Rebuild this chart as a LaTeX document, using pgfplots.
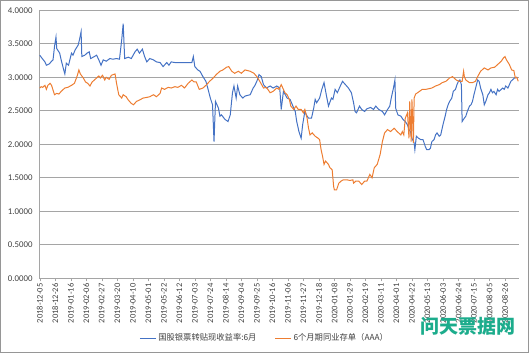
\documentclass[border=0pt]{standalone}
\usepackage{pgfplots}
\pgfplotsset{compat=1.18}
\usepackage{fontspec}
\setmainfont{Carlito}
\newfontfamily\cjk{Noto Sans CJK SC}
\definecolor{xlblue}{RGB}{68,114,196}
\definecolor{xlorange}{RGB}{237,125,49}
\definecolor{gridc}{RGB}{165,165,165}
\definecolor{framec}{RGB}{150,150,150}
\definecolor{wmark}{RGB}{28,172,140}
\begin{document}
\begin{tikzpicture}
\path[use as bounding box] (0,0) rectangle (529pt,353pt);
\draw[framec, line width=0.8pt] (0.4pt,0.4pt) rectangle (528.6pt,352.6pt);
\begin{axis}[
  scale only axis,
  width=480pt, height=268pt,
  at={(39pt,74.7pt)}, anchor=south west,
  xmin=-1, xmax=649,
  ymin=0, ymax=4,
  ytick={0,0.5,...,4},
  axis x line*=bottom, axis y line*=left,
  axis line style={gridc, -},
  ymajorgrids, grid style={gridc, line width=0.8pt},
  ytick style={draw=none},
  xtick={0,21,...,630},
  xticklabels={2018-12-05,2018-12-26,2019-01-16,2019-02-06,2019-02-27,2019-03-20,2019-04-10,2019-05-01,2019-05-22,2019-06-12,2019-07-03,2019-07-24,2019-08-14,2019-09-04,2019-09-25,2019-10-16,2019-11-06,2019-11-27,2019-12-18,2020-01-08,2020-01-29,2020-02-19,2020-03-11,2020-04-01,2020-04-22,2020-05-13,2020-06-03,2020-06-24,2020-07-15,2020-08-05,2020-08-26},
  xtick align=outside,
  major tick length=3pt,
  xtick style={gridc},
  xticklabel style={rotate=90, anchor=east, font=\fontsize{8.5}{9}\selectfont, text=black!75, inner sep=2pt},
  yticklabel style={font=\fontsize{8.8}{9}\selectfont, text=black!75, xshift=-3pt},
  /pgf/number format/.cd, fixed, fixed zerofill, precision=4, assume math mode=true,
  /pgfplots/.cd,
  legend columns=2,
  legend style={at={(0.47,-0.223)}, anchor=center, draw=none, fill=none,
    font=\cjk\fontsize{8.3}{9}\selectfont, text=black!75,
    /tikz/every even column/.append style={column sep=16pt}},
  legend image code/.code={\draw[#1] (0pt,0pt) -- (16pt,0pt);},
]
\addplot[xlblue, line width=1pt] coordinates {
(0,3.33)(2,3.30)(7,3.23)(9,3.18)(13,3.20)(16,3.24)(18,3.26)(20,3.46)(22,3.60)(23,3.43)(27,3.36)(29,3.26)(32,3.13)(34,3.05)(36,3.21)(39,3.18)(43,3.36)(45,3.33)(48,3.41)(52,3.48)(54,3.57)(56,3.68)(57,3.31)(61,3.33)(64,3.36)(67,3.38)(69,3.28)(74,3.31)(77,3.33)(80,3.26)(83,3.18)(86,3.26)(90,3.24)(95,3.28)(99,3.27)(104,3.28)(108,3.27)(111,3.56)(113,3.80)(115,3.28)(120,3.30)(124,3.28)(129,3.38)(132,3.42)(135,3.36)(139,3.42)(142,3.31)(145,3.23)(149,3.28)(154,3.26)(158,3.23)(163,3.22)(167,3.16)(172,3.22)(175,3.18)(178,3.23)(183,3.22)(190,3.22)(199,3.22)(206,3.22)(208,3.31)(210,3.16)(214,3.11)(217,3.09)(221,3.01)(225,2.94)(228,2.82)(231,2.69)(234,2.59)(236,2.04)(238,2.64)(242,2.54)(244,2.42)(246,2.44)(251,2.37)(255,2.34)(258,2.44)(261,2.77)(263,2.87)(266,2.69)(268,2.87)(271,2.74)(275,2.69)(278,2.72)(285,2.74)(289,2.84)(291,2.87)(294,2.94)(297,3.04)(300,3.01)(303,2.89)(307,2.84)(312,2.87)(316,2.84)(321,2.87)(325,2.84)(327,2.52)(330,2.79)(335,2.69)(339,2.67)(344,2.54)(346,2.49)(348,2.34)(351,2.19)(354,2.09)(356,2.29)(359,2.49)(361,2.44)(364,2.39)(368,2.39)(371,2.54)(373,2.67)(375,2.62)(379,2.69)(382,2.82)(385,2.92)(388,2.74)(391,2.57)(395,2.69)(397,2.67)(400,2.82)(403,2.77)(407,2.87)(410,2.94)(414,2.89)(418,2.84)(422,2.77)(425,2.62)(427,2.49)(429,2.47)(433,2.57)(436,2.52)(440,2.49)(443,2.53)(448,2.55)(452,2.52)(455,2.57)(459,2.52)(464,2.49)(467,2.44)(471,2.52)(474,2.57)(476,2.69)(479,2.84)(481,2.96)(482,2.54)(485,2.44)(489,2.42)(492,2.37)(495,2.34)(498,2.29)(500,2.22)(502,2.19)(504,2.09)(507,2.02)(508,1.92)(510,2.12)(513,2.09)(516,2.07)(519,2.07)(522,1.97)(524,1.92)(527,1.92)(529,1.94)(531,2.04)(534,2.07)(536,2.14)(538,2.17)(541,2.12)(543,2.14)(546,2.29)(549,2.42)(551,2.52)(553,2.59)(555,2.64)(558,2.69)(560,2.79)(563,2.82)(565,2.89)(567,2.94)(569,2.96)(571,2.89)(572,2.34)(575,2.39)(577,2.42)(579,2.49)(582,2.57)(584,2.59)(586,2.64)(588,2.74)(591,2.87)(593,2.96)(595,2.94)(597,2.84)(600,2.74)(602,2.59)(604,2.64)(607,2.74)(609,2.77)(611,2.82)(613,2.77)(615,2.79)(618,2.74)(620,2.82)(622,2.79)(625,2.82)(627,2.84)(629,2.82)(631,2.87)(634,2.84)(636,2.89)(638,2.94)(640,2.96)(643,2.99)(645,3.00)(647,2.99)
};
\addlegendentry{国股银票转贴现收益率:6月}
\addplot[xlorange, line width=1pt] coordinates {
(0,2.84)(2,2.86)(4,2.85)(7,2.88)(9,2.82)(11,2.88)(14,2.91)(16,2.88)(18,2.81)(20,2.74)(23,2.76)(26,2.75)(29,2.79)(34,2.84)(38,2.85)(43,2.88)(47,2.91)(51,3.03)(53,3.11)(55,3.05)(59,2.99)(62,2.93)(65,2.91)(68,2.87)(71,2.93)(75,2.97)(78,3.00)(80,3.02)(82,2.99)(85,3.03)(88,2.96)(90,3.00)(94,2.97)(97,3.03)(102,3.05)(104,2.91)(107,2.74)(111,2.69)(113,2.74)(117,2.71)(120,2.66)(124,2.61)(127,2.59)(131,2.64)(135,2.66)(140,2.69)(145,2.70)(149,2.71)(154,2.74)(158,2.71)(163,2.76)(165,2.84)(169,2.82)(174,2.85)(178,2.84)(183,2.86)(187,2.85)(192,2.88)(196,2.84)(201,2.91)(206,2.96)(209,2.93)(212,2.93)(216,2.82)(221,2.84)(226,2.89)(230,2.94)(235,2.99)(239,3.04)(244,3.09)(248,3.11)(253,3.15)(256,3.16)(260,3.09)(264,3.06)(269,3.09)(273,3.06)(278,3.11)(285,3.09)(290,3.06)(294,3.01)(298,2.94)(303,2.84)(307,2.85)(312,2.77)(316,2.79)(321,2.84)(324,2.82)(327,2.89)(330,2.82)(332,2.77)(335,2.74)(338,2.67)(340,2.57)(344,2.52)(347,2.57)(350,2.52)(354,2.52)(357,2.47)(359,2.52)(362,2.39)(364,2.24)(366,2.14)(369,2.17)(373,2.12)(377,2.09)(379,2.07)(381,1.92)(383,1.82)(385,1.70)(387,1.75)(391,1.70)(393,1.65)(396,1.62)(398,1.37)(399,1.32)(402,1.32)(405,1.42)(408,1.45)(411,1.47)(416,1.47)(420,1.46)(424,1.47)(425,1.42)(428,1.45)(432,1.45)(436,1.40)(440,1.45)(443,1.45)(447,1.55)(450,1.50)(453,1.65)(457,1.70)(461,1.85)(464,2.04)(467,2.17)(471,2.22)(475,2.19)(480,2.24)(484,2.19)(489,2.14)(491,2.19)(493,2.14)(495,2.39)(498,2.47)(500,2.09)(501,2.64)(503,2.04)(504,2.67)(506,2.02)(507,2.69)(509,2.75)(513,2.78)(518,2.82)(523,2.82)(527,2.83)(531,2.84)(536,2.87)(541,2.89)(545,2.92)(550,2.94)(555,2.99)(559,3.01)(564,2.96)(568,2.94)(572,2.94)(574,3.09)(575,3.01)(577,2.96)(582,2.92)(586,2.92)(590,2.94)(593,3.01)(597,3.09)(602,3.14)(607,3.11)(611,3.14)(616,3.15)(620,3.19)(625,3.24)(628,3.29)(630,3.31)(632,3.26)(636,3.19)(639,3.11)(642,3.10)(644,2.99)(646,3.00)(648,2.94)
};
\addlegendentry{6个月期同业存单（AAA）}
\end{axis}
\node[text=wmark, font=\cjk\bfseries\fontsize{19}{20}\selectfont, inner sep=0pt] at (467.5pt,27pt) {问天票据网};
\end{tikzpicture}
\end{document}
